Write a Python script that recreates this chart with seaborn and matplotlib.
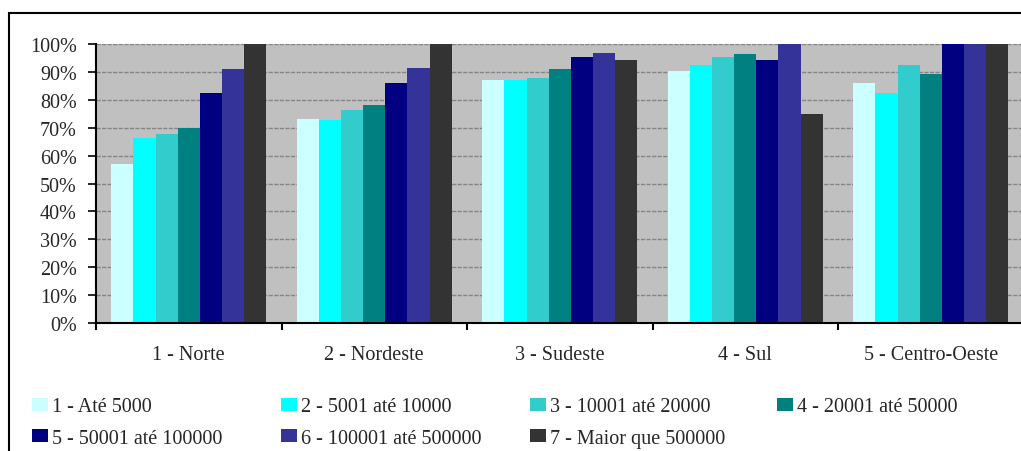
import pandas as pd
import numpy as np
import matplotlib.pyplot as plt
import matplotlib.patches as mpatches
from matplotlib.ticker import FixedLocator, FuncFormatter
import seaborn as sns

regioes = ['1 - Norte', '2 - Nordeste', '3 - Sudeste', '4 - Sul', '5 - Centro-Oeste']
classes = ['1 - Até 5000', '2 - 5001 até 10000', '3 - 10001 até 20000', '4 - 20001 até 50000',
           '5 - 50001 até 100000', '6 - 100001 até 500000', '7 - Maior que 500000']

# percent values per class, one value per region
c1 = [57.1, 73.2, 87.1, 90.4, 86.0]
c2 = [66.4, 72.7, 87.1, 92.6, 82.4]
c3 = [67.8, 76.3, 87.8, 95.3, 92.5]
c4 = [70.0, 78.1, 91.1, 96.4, 89.2]
c5 = [82.5, 86.0, 95.3, 94.3, 100.0]
c6 = [91.1, 91.4, 96.8, 100.0, 100.0]
c7 = [100.0, 100.0, 94.3, 74.9, 100.0]

cores = ['#CCFFFF', '#00FFFF', '#33CCCC', '#008080', '#000080', '#333399', '#333333']

valores = [c1, c2, c3, c4, c5, c6, c7]
rows = []
for cl, vals in zip(classes, valores):
    for reg, v in zip(regioes, vals):
        rows.append({'Regiao': reg, 'Classe': cl, 'Valor': v})
df = pd.DataFrame(rows)

sns.set_style('white')
plt.rcParams['font.family'] = ['Liberation Serif', 'DejaVu Serif']
fs = 14.5

fig = plt.figure(figsize=(10.21, 4.52), dpi=100)
ax = fig.add_axes([96 / 1021, 128 / 452, 927.5 / 1021, 279 / 452])
ax.set_facecolor('#C0C0C0')

sns.barplot(data=df, x='Regiao', y='Valor', hue='Classe', order=regioes, hue_order=classes,
            palette=cores, saturation=1, width=0.835, gap=0, legend=False, ax=ax,
            linewidth=0, edgecolor='none', zorder=3)

ax.set_ylim(0, 100)
ax.set_xlim(-0.5, 4.5)
ax.set_yticks(np.arange(0, 101, 10))
ax.yaxis.set_major_formatter(FuncFormatter(lambda v, p: f'{int(v)}%'))
ax.grid(axis='y', color='#858585', linewidth=1, linestyle=(0, (3, 1)), zorder=1)
ax.set_axisbelow(True)

# category boundaries as major ticks, labels on minor ticks
ax.xaxis.set_major_locator(FixedLocator(np.arange(-0.5, 5, 1)))
ax.xaxis.set_minor_locator(FixedLocator(np.arange(0, 5)))
ax.set_xticklabels([], minor=False)
ax.set_xticklabels(regioes, minor=True)
ax.tick_params(axis='x', which='major', direction='out', length=5, width=1.5, color='black', bottom=True)
ax.tick_params(axis='x', which='minor', length=0, pad=16, labelsize=fs)
ax.tick_params(axis='y', direction='out', length=5.8, width=1.2, color='black', left=True, pad=8, labelsize=fs)
ax.set_xlabel('')
ax.set_ylabel('')

for s in ['top', 'right']:
    ax.spines[s].set_visible(False)
for s in ['left', 'bottom']:
    ax.spines[s].set_color('black')
    ax.spines[s].set_linewidth(1.5)
    ax.spines[s].set_zorder(5)

# outer chart frame
fig.patches.append(mpatches.Rectangle((9 / 1021, -0.1), 1.1, (452 - 14) / 452 + 0.1,
                                      transform=fig.transFigure, fill=False,
                                      edgecolor='black', linewidth=1.5))

# legend: 4 columns at fixed positions, filled row by row
handles = [mpatches.Patch(facecolor=c, edgecolor='none', label=l) for c, l in zip(cores, classes)]
col_x = [32, 281, 530, 777]
for i, x0 in enumerate(col_x):
    fig.legend(handles=handles[i::4], loc='upper left', bbox_to_anchor=(x0 / 1021, 53.5 / 452),
               frameon=False, fontsize=fs, borderpad=0, borderaxespad=0, handlelength=0.8,
               handleheight=0.6, handletextpad=0.2, labelspacing=0.6)

fig.savefig('out.png', dpi=100)
